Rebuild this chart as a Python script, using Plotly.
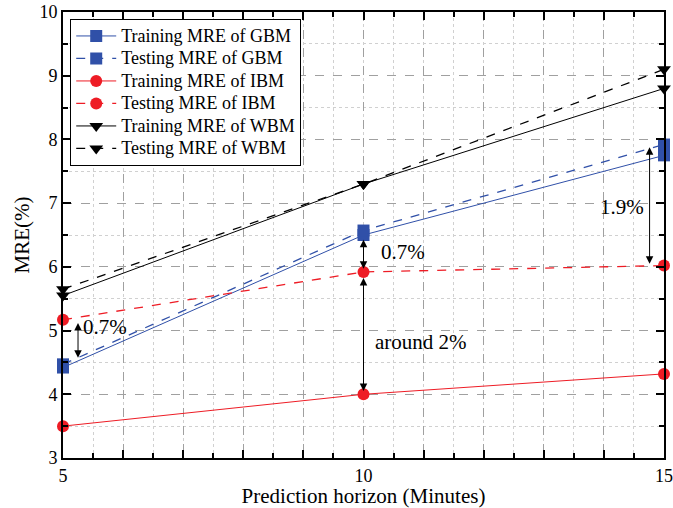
import plotly.graph_objects as go

horizon = [5, 10, 15]
train_gbm = [4.42, 6.50, 7.75]
test_gbm = [4.47, 6.57, 7.92]
train_ibm = [3.50, 4.00, 4.32]
test_ibm = [5.17, 5.92, 6.02]
train_wbm = [5.55, 7.30, 8.80]
test_wbm = [5.65, 7.30, 9.10]

BLUE = "#3050A8"
RED = "#EE1C25"
BLACK = "#000000"
FONT = "Liberation Serif, Times New Roman, serif"

fig = go.Figure()
series = [
    ("Training MRE of GBM", train_gbm, BLUE, "solid", "square", 1),
    ("Testing MRE of GBM", test_gbm, BLUE, "dash", "square", 1.3),
    ("Training MRE of IBM", train_ibm, RED, "solid", "circle", 1),
    ("Testing MRE of IBM", test_ibm, RED, "dash", "circle", 1.3),
    ("Training MRE of WBM", train_wbm, BLACK, "solid", "triangle-down", 1),
    ("Testing MRE of WBM", test_wbm, BLACK, "dash", "triangle-down", 1.3),
]
for name, ys, col, dash, sym, w in series:
    fig.add_trace(go.Scatter(
        x=horizon, y=ys, name='<span style="font-size:18px">' + name + '</span>',
        mode="lines+markers",
        line=dict(color=col, dash=dash, width=w),
        marker=dict(symbol=sym, size=12, color=col, line=dict(width=0)),
        cliponaxis=False,
    ))

arrows = [
    (5.25, 4.55, 5.12, 5.3, 5.05, "left", "0.7%"),
    (10.0, 6.45, 5.97, 10.25, 6.23, "left", "0.7%"),
    (10.0, 5.85, 4.05, 10.15, 4.82, "left", "around 2%"),
    (14.76, 7.9, 6.05, 14.7, 6.94, "right", "1.9%"),
]
for xa, y1, y2, tx, ty, anc, txt in arrows:
    fig.add_annotation(x=xa, y=y2, ax=xa, ay=y1, xref="x", yref="y", axref="x", ayref="y",
                       showarrow=True, arrowhead=2, arrowside="end+start", arrowsize=1.5,
                       arrowwidth=1, arrowcolor="black", text="")
    fig.add_annotation(x=tx, y=ty, xref="x", yref="y", text=txt, showarrow=False,
                       xanchor=anc, font=dict(family=FONT, size=21, color="black"))

fig.update_layout(
    width=673, height=508,
    margin=dict(l=63, r=9, t=12, b=50),
    plot_bgcolor="white", paper_bgcolor="white",
    font=dict(family=FONT, size=18, color="black"),
    showlegend=True,
    legend=dict(x=0.012, y=0.985, xanchor="left", yanchor="top",
                bordercolor="black", borderwidth=1, bgcolor="white",
                font=dict(family=FONT, size=15), tracegroupgap=0, itemwidth=40),
)
fig.update_xaxes(
    range=[5, 15], tickmode="array", tickvals=list(range(5, 16)),
    ticktext=["5", "", "", "", "", "10", "", "", "", "", "15"],
    ticks="inside", ticklen=8, tickwidth=2, tickcolor="black",
    showline=True, linewidth=2, linecolor="black", mirror="ticks",
    showgrid=True, gridcolor="#a0a0a0", griddash="dash", gridwidth=1,
    minor=dict(dtick=0.5, ticks="inside", ticklen=5, tickwidth=2, tickcolor="black",
               showgrid=True, gridcolor="#d0d0d0", griddash="dot"),
    zeroline=False, automargin=False, ticklabeloverflow="allow",
    title=dict(text="Prediction horizon (Minutes)", font=dict(family=FONT, size=21), standoff=2),
    tickfont=dict(family=FONT, size=18),
)
fig.update_yaxes(
    range=[3, 10], dtick=1, tick0=3,
    ticks="inside", ticklen=8, tickwidth=2, tickcolor="black",
    showline=True, linewidth=2, linecolor="black", mirror="ticks",
    showgrid=True, gridcolor="#a0a0a0", griddash="dash", gridwidth=1,
    minor=dict(dtick=0.5, ticks="inside", ticklen=5, tickwidth=2, tickcolor="black",
               showgrid=True, gridcolor="#d0d0d0", griddash="dot"),
    zeroline=False, automargin=False, ticklabeloverflow="allow",
    title=dict(text="MRE(%)", font=dict(family=FONT, size=21), standoff=4),
    tickfont=dict(family=FONT, size=18),
)
fig.write_html("out.html")
